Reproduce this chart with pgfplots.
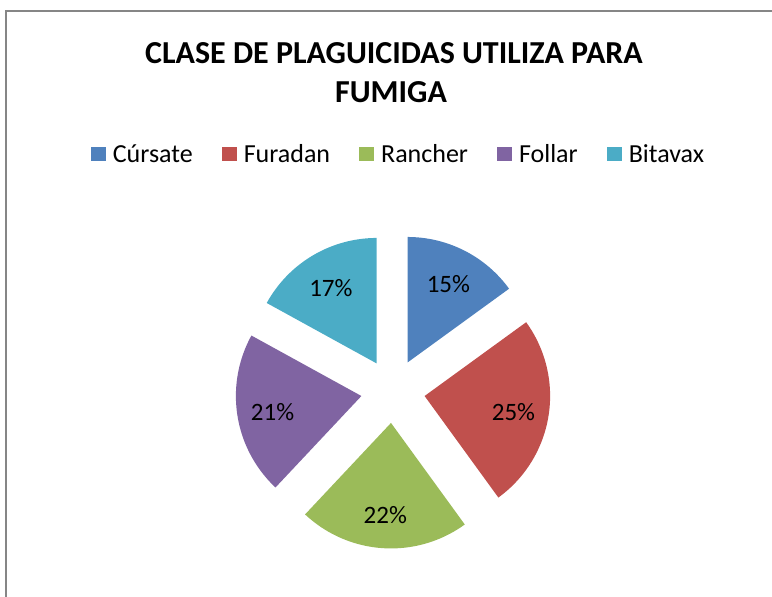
\documentclass[border=0pt]{standalone}
\usepackage{fontspec}
\setmainfont{Carlito}
\usepackage{pgfplots}
\usepackage{pgfplotstable}
\pgfplotsset{compat=1.18}
\definecolor{cCursate}{HTML}{4F81BD}
\definecolor{cFuradan}{HTML}{C0504D}
\definecolor{cRancher}{HTML}{9BBB59}
\definecolor{cFollar}{HTML}{8064A2}
\definecolor{cBitavax}{HTML}{4BACC6}
\definecolor{frame}{RGB}{134,134,134}

% pie geometry (bp): centre, explosion distance, radius, label distance
\def\pcx{393}\def\pcy{206}\def\pex{32}\def\prad{125.5}\def\plab{122}
\gdef\cumangle{90}
\newcommand\pieslice[3]{% value, colour, legend text
  \pgfmathsetmacro\sa{\cumangle}%
  \pgfmathsetmacro\ea{\cumangle-3.6*#1}%
  \pgfmathsetmacro\ma{(\sa+\ea)/2}%
  \pgfmathsetmacro\ox{\pcx+\pex*cos(\ma)}%
  \pgfmathsetmacro\oy{\pcy+\pex*sin(\ma)}%
  \pgfmathsetmacro\lx{\pcx+\plab*cos(\ma)}%
  \pgfmathsetmacro\ly{\pcy+\plab*sin(\ma)-2}%
  \edef\doit{%
    \noexpand\addplot[fill=#2, draw=none, domain=\ea:\sa, samples=80, variable=\noexpand\t]
      ({\ox+\prad*cos(\noexpand\t)},{\oy+\prad*sin(\noexpand\t)}) -- (axis cs:\ox,\oy) -- cycle;
    \noexpand\addlegendentry{#3}
    \noexpand\node[font=\noexpand\fontsize{25bp}{30bp}\noexpand\selectfont] at (axis cs:\lx,\ly) {#1\noexpand\%};
  }%
  \doit
  \xdef\cumangle{\ea}%
}

\begin{document}
\begin{tikzpicture}
\useasboundingbox (0,0) rectangle (772bp,597bp);
\draw[line width=1.2bp, color=frame] (772bp,586bp) -- (5.5bp,586bp);
\draw[line width=2bp, color=frame] (5.5bp,586.6bp) -- (5.5bp,0bp);
\begin{axis}[
  at={(0,0)}, anchor=south west, scale only axis,
  width=772bp, height=597bp,
  xmin=0, xmax=772, ymin=0, ymax=597,
  hide axis, clip=false,
  legend columns=5,
  legend image code/.code={\fill[#1] (0bp,-7bp) rectangle (15bp,7bp);},
  legend style={at={(axis cs:397.5,443)}, anchor=center, draw=none, fill=none,
    font=\fontsize{26bp}{30bp}\selectfont,
    nodes={inner xsep=0bp, inner ysep=0bp},
    /tikz/every odd column/.append style={column sep=7bp},
    /tikz/every even column/.append style={column sep=29bp}},
]
\pieslice{15}{cCursate}{Cúrsate}
\pieslice{25}{cFuradan}{Furadan}
\pieslice{22}{cRancher}{Rancher}
\pieslice{21}{cFollar}{Follar}
\pieslice{17}{cBitavax}{Bitavax}
\node[font=\bfseries\fontsize{32bp}{38bp}\selectfont, anchor=base] at (axis cs:394,533.7) {CLASE DE PLAGUICIDAS UTILIZA PARA};
\node[font=\bfseries\fontsize{32bp}{38bp}\selectfont, anchor=base] at (axis cs:391,494.3) {FUMIGA};
\end{axis}
\end{tikzpicture}
\end{document}
